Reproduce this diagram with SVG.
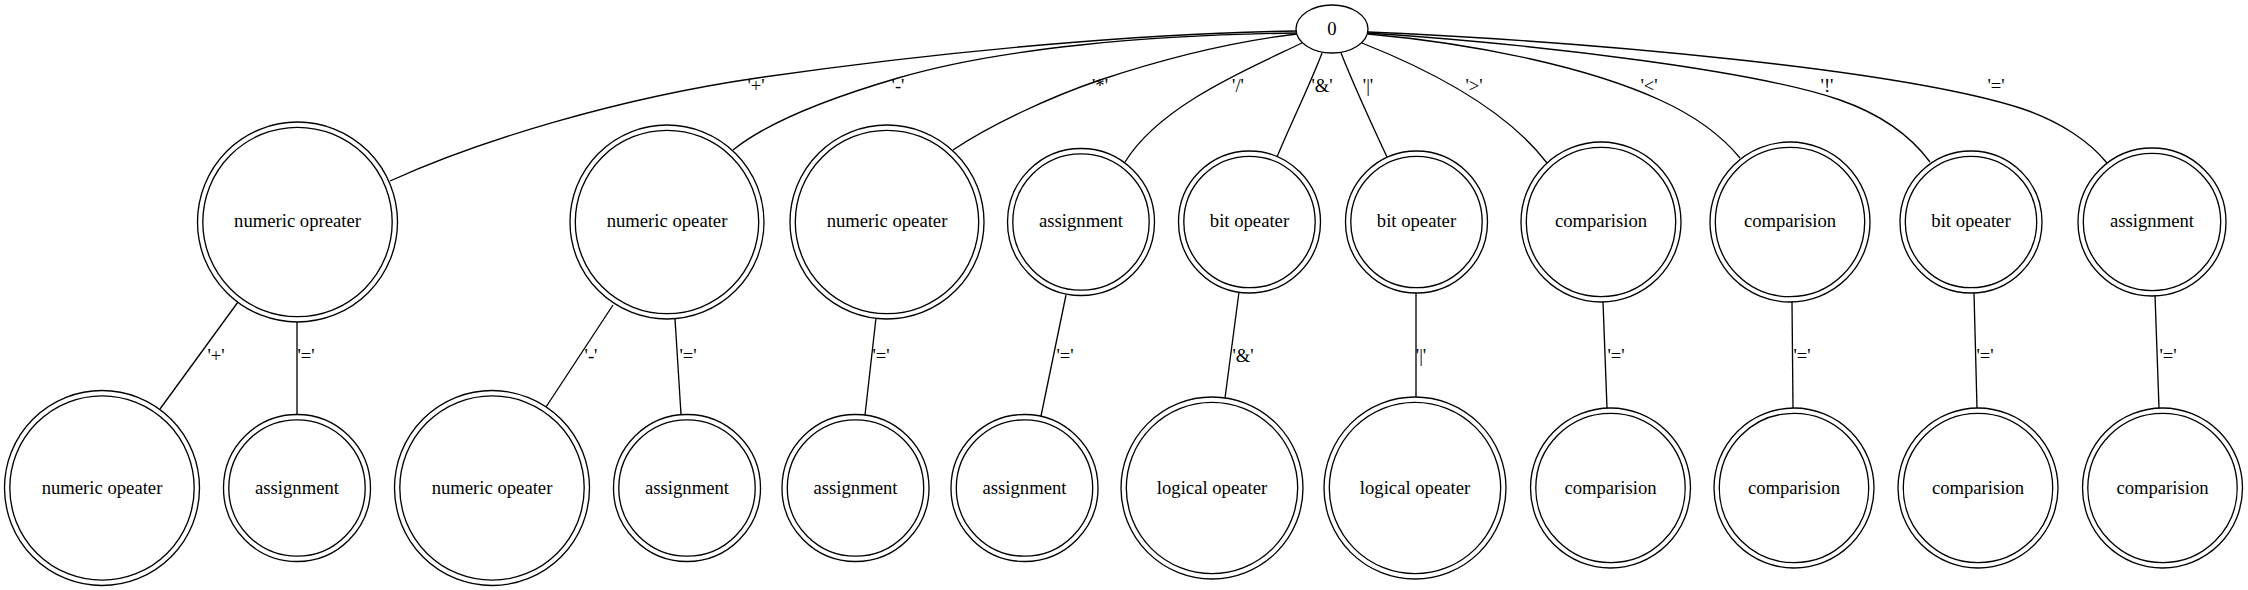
<svg xmlns="http://www.w3.org/2000/svg" width="2248" height="590" viewBox="0 0 2248 590">
<style>
.n circle, .n ellipse { fill: none; stroke: #000; stroke-width: 1.33; }
.t { font-family: "Liberation Serif", "Times New Roman", serif; font-size: 18.67px; text-anchor: middle; fill: #000; }
.e path, .e line { fill: none; stroke: #000; stroke-width: 1.33; }
</style>
<rect width="2248" height="590" fill="#fff"/>
<g id="connectors" class="e">
  <path d="M1297,31 C1150,33 950,50 757,78 C620,98 480,140 390,181"/>
  <path d="M1297,33 C1150,35 1000,48 898,78 C840,95 770,120 733,150"/>
  <path d="M1297,34 C1230,42 1160,60 1100,80 C1050,97 990,125 953,150"/>
  <path d="M1302,43 C1250,68 1160,105 1125,162"/>
  <path d="M1322,53 C1310,85 1290,125 1277,157"/>
  <path d="M1341,53 C1355,88 1372,125 1387,157"/>
  <path d="M1362,43 C1425,68 1505,108 1547,163"/>
  <path d="M1368,34 C1480,44 1590,68 1660,100 C1695,116 1722,136 1740,158"/>
  <path d="M1368,33 C1550,45 1760,72 1840,100 C1880,114 1910,135 1930,162"/>
  <path d="M1368,32 C1600,42 1900,70 2020,108 C2060,121 2090,142 2107,163"/>
  <line x1="238" y1="302" x2="160" y2="409"/>
  <line x1="297" y1="322" x2="297" y2="414"/>
  <line x1="613" y1="305" x2="546" y2="407"/>
  <line x1="675" y1="319" x2="681" y2="414"/>
  <line x1="876" y1="318" x2="865" y2="415"/>
  <line x1="1066" y1="295" x2="1041" y2="416"/>
  <line x1="1239" y1="292" x2="1225" y2="398"/>
  <line x1="1416" y1="293" x2="1416" y2="397"/>
  <line x1="1603" y1="302" x2="1607" y2="408"/>
  <line x1="1792" y1="302" x2="1793" y2="408"/>
  <line x1="1974" y1="293" x2="1977" y2="408"/>
  <line x1="2155" y1="295" x2="2159" y2="408"/>
  <g class="t">
    <text x="756" y="92">'+'</text>
    <text x="898" y="92">'-'</text>
    <text x="1100" y="92">'*'</text>
    <text x="1238" y="92">'/'</text>
    <text x="1322" y="92">'&amp;'</text>
    <text x="1368" y="92">'|'</text>
    <text x="1474" y="92">'&gt;'</text>
    <text x="1649" y="92">'&lt;'</text>
    <text x="1827" y="92">'!'</text>
    <text x="1996" y="92">'='</text>
    <text x="216" y="362">'+'</text>
    <text x="306" y="362">'='</text>
    <text x="591" y="362">'-'</text>
    <text x="688" y="362">'='</text>
    <text x="881" y="362">'='</text>
    <text x="1065" y="362">'='</text>
    <text x="1243" y="362">'&amp;'</text>
    <text x="1421" y="362">'|'</text>
    <text x="1616" y="362">'='</text>
    <text x="1802" y="362">'='</text>
    <text x="1985" y="362">'='</text>
    <text x="2168" y="362">'='</text>
  </g>
</g>
<g id="n0" class="n"><ellipse cx="1332" cy="29" rx="36" ry="24"/><text class="t" x="1332" y="35">0</text></g>
<g id="n1" class="n"><circle cx="297.5" cy="222" r="100"/><circle cx="297.5" cy="222" r="94.7"/><text class="t" x="297.5" y="227">numeric opreater</text></g>
<g id="n2" class="n"><circle cx="667" cy="222" r="97"/><circle cx="667" cy="222" r="91.7"/><text class="t" x="667" y="227">numeric opeater</text></g>
<g id="n3" class="n"><circle cx="887" cy="222" r="97"/><circle cx="887" cy="222" r="91.7"/><text class="t" x="887" y="227">numeric opeater</text></g>
<g id="n4" class="n"><circle cx="1081" cy="222" r="73.5"/><circle cx="1081" cy="222" r="68.2"/><text class="t" x="1081" y="227">assignment</text></g>
<g id="n5" class="n"><circle cx="1249.5" cy="222" r="71"/><circle cx="1249.5" cy="222" r="65.7"/><text class="t" x="1249.5" y="227">bit opeater</text></g>
<g id="n6" class="n"><circle cx="1416.5" cy="222" r="71"/><circle cx="1416.5" cy="222" r="65.7"/><text class="t" x="1416.5" y="227">bit opeater</text></g>
<g id="n7" class="n"><circle cx="1601" cy="222" r="80"/><circle cx="1601" cy="222" r="74.7"/><text class="t" x="1601" y="227">comparision</text></g>
<g id="n8" class="n"><circle cx="1790" cy="222" r="80"/><circle cx="1790" cy="222" r="74.7"/><text class="t" x="1790" y="227">comparision</text></g>
<g id="n9" class="n"><circle cx="1971" cy="222" r="71"/><circle cx="1971" cy="222" r="65.7"/><text class="t" x="1971" y="227">bit opeater</text></g>
<g id="n10" class="n"><circle cx="2152" cy="222" r="74"/><circle cx="2152" cy="222" r="68.7"/><text class="t" x="2152" y="227">assignment</text></g>
<g id="n11" class="n"><circle cx="102" cy="488" r="97.5"/><circle cx="102" cy="488" r="92.2"/><text class="t" x="102" y="494">numeric opeater</text></g>
<g id="n12" class="n"><circle cx="297" cy="488" r="73.5"/><circle cx="297" cy="488" r="68.2"/><text class="t" x="297" y="494">assignment</text></g>
<g id="n13" class="n"><circle cx="492" cy="488" r="97.5"/><circle cx="492" cy="488" r="92.2"/><text class="t" x="492" y="494">numeric opeater</text></g>
<g id="n14" class="n"><circle cx="687" cy="488" r="73.5"/><circle cx="687" cy="488" r="68.2"/><text class="t" x="687" y="494">assignment</text></g>
<g id="n15" class="n"><circle cx="855.5" cy="488" r="73.5"/><circle cx="855.5" cy="488" r="68.2"/><text class="t" x="855.5" y="494">assignment</text></g>
<g id="n16" class="n"><circle cx="1024.5" cy="488" r="73.5"/><circle cx="1024.5" cy="488" r="68.2"/><text class="t" x="1024.5" y="494">assignment</text></g>
<g id="n17" class="n"><circle cx="1212" cy="488" r="91"/><circle cx="1212" cy="488" r="85.7"/><text class="t" x="1212" y="494">logical opeater</text></g>
<g id="n18" class="n"><circle cx="1415" cy="488" r="91"/><circle cx="1415" cy="488" r="85.7"/><text class="t" x="1415" y="494">logical opeater</text></g>
<g id="n19" class="n"><circle cx="1610.5" cy="488" r="80"/><circle cx="1610.5" cy="488" r="74.7"/><text class="t" x="1610.5" y="494">comparision</text></g>
<g id="n20" class="n"><circle cx="1794" cy="488" r="80"/><circle cx="1794" cy="488" r="74.7"/><text class="t" x="1794" y="494">comparision</text></g>
<g id="n21" class="n"><circle cx="1978" cy="488" r="80"/><circle cx="1978" cy="488" r="74.7"/><text class="t" x="1978" y="494">comparision</text></g>
<g id="n22" class="n"><circle cx="2162.5" cy="488" r="80"/><circle cx="2162.5" cy="488" r="74.7"/><text class="t" x="2162.5" y="494">comparision</text></g>
</svg>
